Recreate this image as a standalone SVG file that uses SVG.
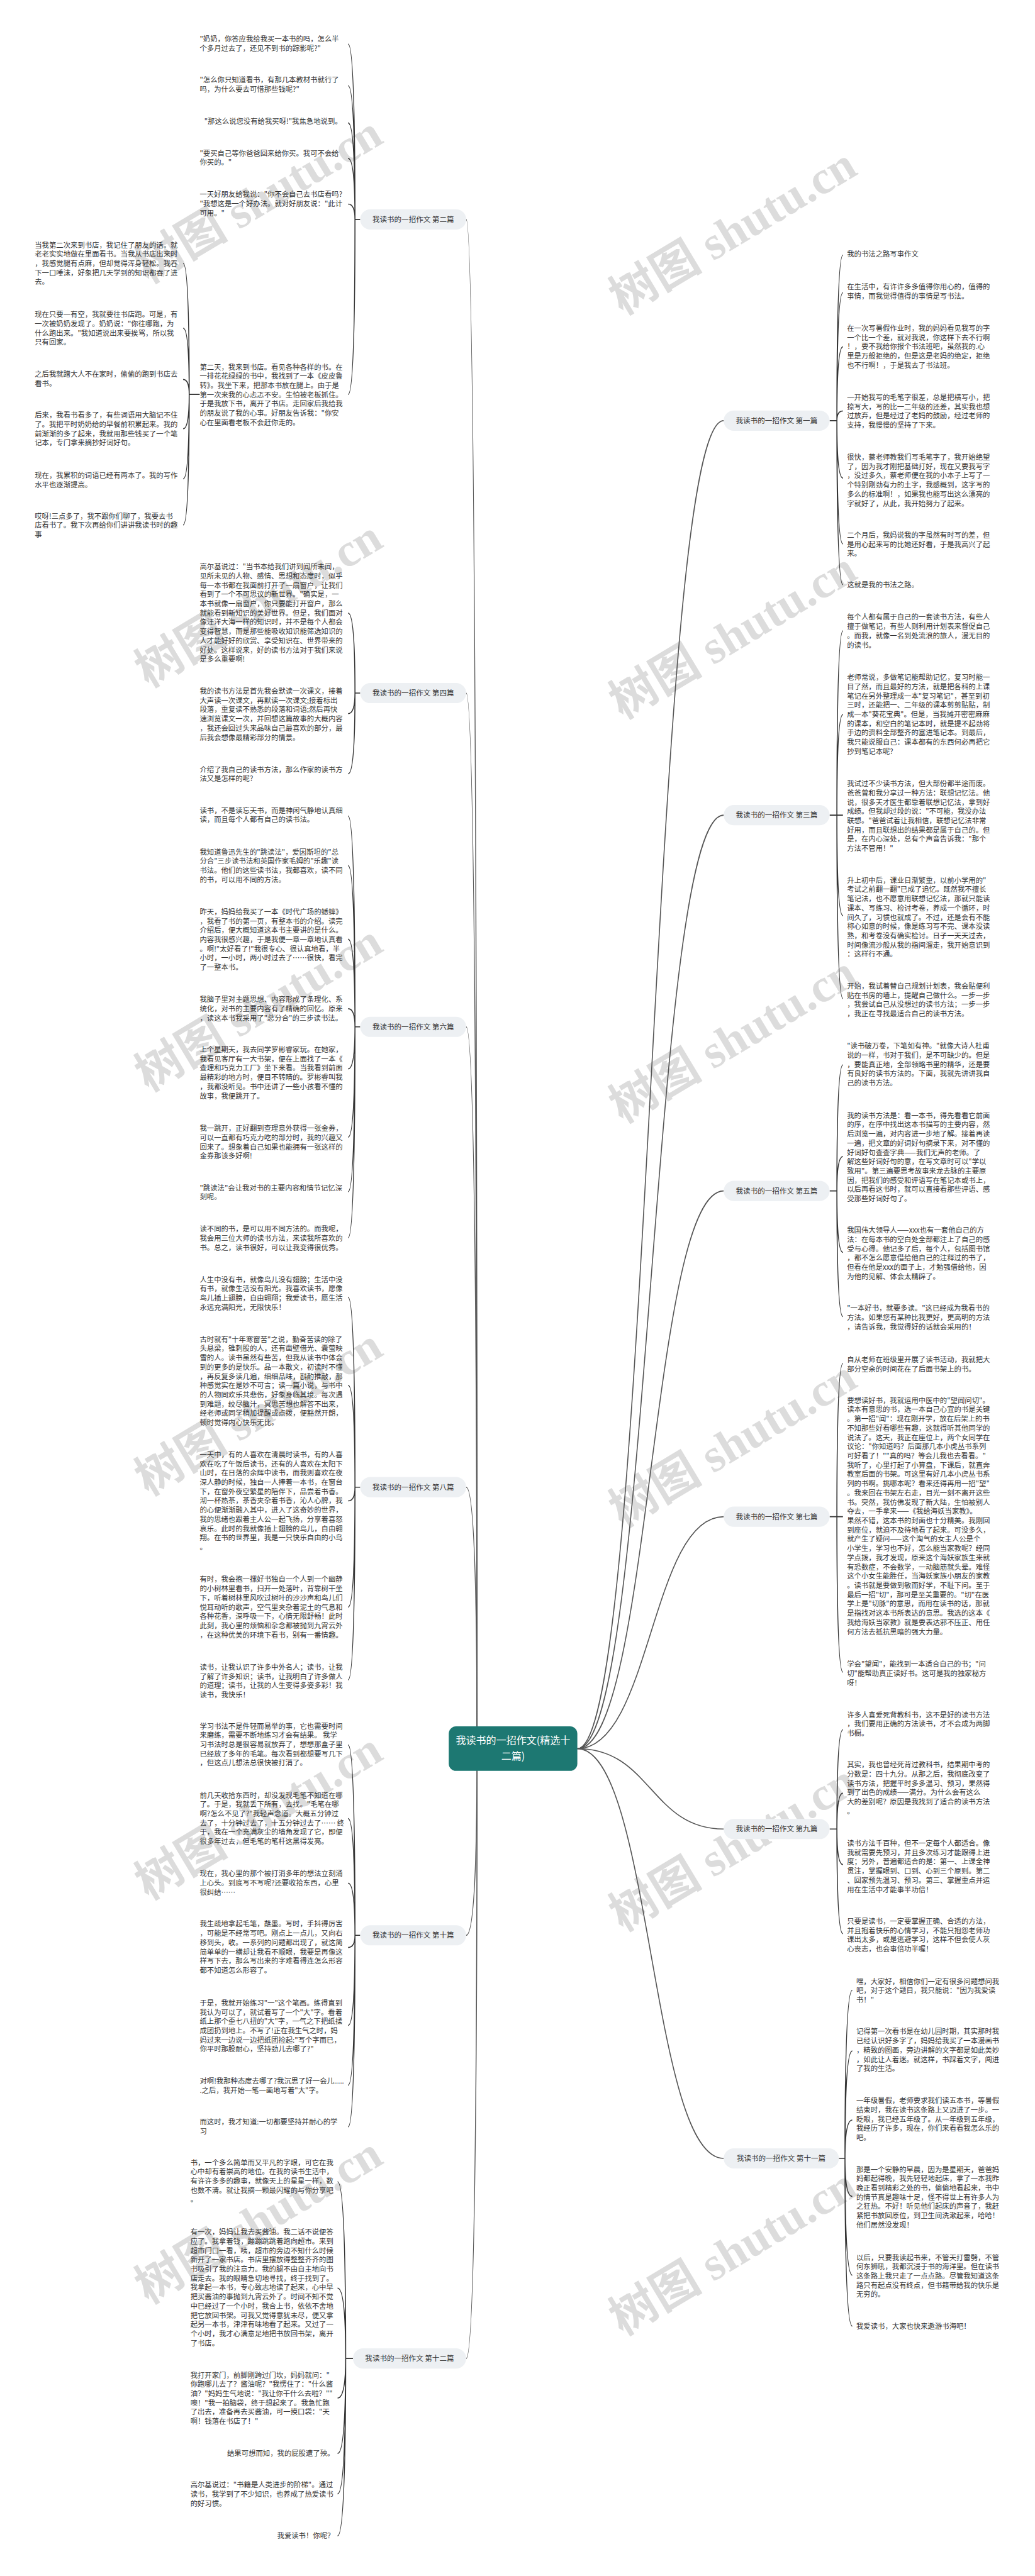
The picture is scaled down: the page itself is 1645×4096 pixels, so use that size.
<svg xmlns="http://www.w3.org/2000/svg" width="1645" height="4096" viewBox="0 0 1645 4096">
<style>
.t{font-family:"Noto Sans CJK SC","Noto Sans",sans-serif;font-size:17.7px;fill:#333}
.c{fill:none;stroke:#333;stroke-width:2.5}
.b{fill:none;stroke:#555;stroke-width:2.5}
.pill{fill:#edf0f3}
.nl{font-family:"Noto Sans CJK SC","Noto Sans",sans-serif;font-size:18px;fill:#333;text-anchor:middle}
.rt{font-family:"Noto Sans CJK SC","Noto Sans",sans-serif;font-size:25px;fill:#fff;text-anchor:middle}
.wm{font-family:"Liberation Serif","Noto Sans CJK SC",serif;font-size:116px;font-weight:bold;fill:#dcdcdc}
</style>
<rect width="1645" height="4096" fill="#fff"/>
<g transform="scale(0.642578)">
<g id="watermarks">
<text class="wm" transform="translate(367,703) rotate(-31)">树图 shutu.cn</text>
<text class="wm" transform="translate(367,1703) rotate(-31)">树图 shutu.cn</text>
<text class="wm" transform="translate(367,2703) rotate(-31)">树图 shutu.cn</text>
<text class="wm" transform="translate(367,3703) rotate(-31)">树图 shutu.cn</text>
<text class="wm" transform="translate(367,4703) rotate(-31)">树图 shutu.cn</text>
<text class="wm" transform="translate(367,5703) rotate(-31)">树图 shutu.cn</text>
<text class="wm" transform="translate(1540,781) rotate(-31)">树图 shutu.cn</text>
<text class="wm" transform="translate(1540,1781) rotate(-31)">树图 shutu.cn</text>
<text class="wm" transform="translate(1540,2781) rotate(-31)">树图 shutu.cn</text>
<text class="wm" transform="translate(1540,3781) rotate(-31)">树图 shutu.cn</text>
<text class="wm" transform="translate(1540,4781) rotate(-31)">树图 shutu.cn</text>
<text class="wm" transform="translate(1540,5781) rotate(-31)">树图 shutu.cn</text>
</g>
<g id="connectors">
<path class="b" d="M1180,4327 Q1180,543 1153,543"/>
<path class="b" d="M1180,4327 Q1180,1715 1153,1715"/>
<path class="b" d="M1180,4327 Q1180,2541 1153,2541"/>
<path class="b" d="M1180,4327 Q1180,3680 1153,3680"/>
<path class="b" d="M1180,4327 Q1180,4789 1153,4789"/>
<path class="b" d="M1180,4327 Q1180,5836 1153,5836"/>
<path class="b" d="M1428,4327 C1610,4327 1610,1041 1790,1041"/>
<path class="b" d="M1428,4327 C1610,4327 1610,2017 1790,2017"/>
<path class="b" d="M1428,4327 C1610,4327 1610,2947 1790,2947"/>
<path class="b" d="M1428,4327 C1610,4327 1610,3753 1790,3753"/>
<path class="b" d="M1428,4327 C1610,4327 1610,4526 1790,4526"/>
<path class="b" d="M1428,4327 C1610,4327 1610,5341 1790,5341"/>
<path class="c" d="M891,543 H878 M878,543 Q878,109 861,109 M878,543 Q878,212 861,212 M878,543 Q878,304 861,304 M878,543 Q878,392 861,392 M878,543 Q878,505 861,505 M878,543 Q878,976 861,976"/>
<path class="c" d="M494,976 H468 M468,976 Q468,652 453,652 M468,976 Q468,812 453,812 M468,976 Q468,939 453,939 M468,976 Q468,1061 453,1061 M468,976 Q468,1185 453,1185 M468,976 Q468,1299 453,1299"/>
<path class="c" d="M891,1715 H878 M878,1715 Q878,1517 861,1517 M878,1715 Q878,1766 861,1766 M878,1715 Q878,1915 861,1915"/>
<path class="c" d="M891,2541 H878 M878,2541 Q878,2019 861,2019 M878,2541 Q878,2142 861,2142 M878,2541 Q878,2324 861,2324 M878,2541 Q878,2496 861,2496 M878,2541 Q878,2645 861,2645 M878,2541 Q878,2814 861,2814 M878,2541 Q878,2949 861,2949 M878,2541 Q878,3063 861,3063"/>
<path class="c" d="M891,3680 H878 M878,3680 Q878,3210 861,3210 M878,3680 Q878,3428 861,3428 M878,3680 Q878,3714 861,3714 M878,3680 Q878,3977 861,3977 M878,3680 Q878,4157 861,4157"/>
<path class="c" d="M891,4789 H878 M878,4789 Q878,4318 861,4318 M878,4789 Q878,4500 861,4500 M878,4789 Q878,4660 861,4660 M878,4789 Q878,4819 861,4819 M878,4789 Q878,5012 861,5012 M878,4789 Q878,5160 861,5160 M878,4789 Q878,5263 861,5263"/>
<path class="c" d="M873,5836 H855 M855,5836 Q855,5399 835,5399 M855,5836 Q855,5662 835,5662 M855,5836 Q855,5934 835,5934 M855,5836 Q855,6071 835,6071 M855,5836 Q855,6171 835,6171 M855,5836 Q855,6275 835,6275"/>
<path class="c" d="M2052,1041 H2070 M2070,1041 Q2070,631 2085,631 M2070,1041 Q2070,724 2085,724 M2070,1041 Q2070,858 2085,858 M2070,1041 Q2070,1017 2085,1017 M2070,1041 Q2070,1183 2085,1183 M2070,1041 Q2070,1346 2085,1346 M2070,1041 Q2070,1447 2085,1447"/>
<path class="c" d="M2052,2017 H2085 M2070,2017 Q2070,1561 2085,1561 M2070,2017 Q2070,1768 2085,1768 M2070,2017 Q2070,2266 2085,2266 M2070,2017 Q2070,2471 2085,2471"/>
<path class="c" d="M2052,2947 H2070 M2070,2947 Q2070,2635 2085,2635 M2070,2947 Q2070,2862 2085,2862 M2070,2947 Q2070,3099 2085,3099 M2070,2947 Q2070,3258 2085,3258"/>
<path class="c" d="M2052,3753 H2085 M2070,3753 Q2070,3374 2085,3374 M2070,3753 Q2070,4138 2085,4138"/>
<path class="c" d="M2052,4526 H2070 M2070,4526 Q2070,4280 2085,4280 M2070,4526 Q2070,4437 2085,4437 M2070,4526 Q2070,4614 2085,4614 M2070,4526 Q2070,4785 2085,4785"/>
<path class="c" d="M2075,5341 H2090 M2090,5341 Q2090,4925 2108,4925 M2090,5341 Q2090,5075 2108,5075 M2090,5341 Q2090,5246 2108,5246 M2090,5341 Q2090,5435 2108,5435 M2090,5341 Q2090,5630 2108,5630 M2090,5341 Q2090,5756 2108,5756"/>
</g>
<g id="root">
<rect x="1110" y="4272" width="318" height="110" rx="18" fill="#1d7872"/>
<text class="rt" x="1269" y="4316">我读书的一招作文(精选十</text>
<text class="rt" x="1269" y="4354">二篇)</text>
</g>
<g id="b2"><rect class="pill" x="891" y="518" width="262" height="50" rx="25"/><text class="nl" x="1022" y="549.5">我读书的一招作文 第二篇</text></g>
<g id="b4"><rect class="pill" x="891" y="1690" width="262" height="50" rx="25"/><text class="nl" x="1022" y="1721.5">我读书的一招作文 第四篇</text></g>
<g id="b6"><rect class="pill" x="891" y="2516" width="262" height="50" rx="25"/><text class="nl" x="1022" y="2547.5">我读书的一招作文 第六篇</text></g>
<g id="b8"><rect class="pill" x="891" y="3655" width="262" height="50" rx="25"/><text class="nl" x="1022" y="3686.5">我读书的一招作文 第八篇</text></g>
<g id="b10"><rect class="pill" x="891" y="4764" width="262" height="50" rx="25"/><text class="nl" x="1022" y="4795.5">我读书的一招作文 第十篇</text></g>
<g id="b12"><rect class="pill" x="873" y="5811" width="280" height="50" rx="25"/><text class="nl" x="1013" y="5842.5">我读书的一招作文 第十二篇</text></g>
<g id="b1"><rect class="pill" x="1790" y="1016" width="262" height="50" rx="25"/><text class="nl" x="1921" y="1047.5">我读书的一招作文 第一篇</text></g>
<g id="b3"><rect class="pill" x="1790" y="1992" width="262" height="50" rx="25"/><text class="nl" x="1921" y="2023.5">我读书的一招作文 第三篇</text></g>
<g id="b5"><rect class="pill" x="1790" y="2922" width="262" height="50" rx="25"/><text class="nl" x="1921" y="2953.5">我读书的一招作文 第五篇</text></g>
<g id="b7"><rect class="pill" x="1790" y="3728" width="262" height="50" rx="25"/><text class="nl" x="1921" y="3759.5">我读书的一招作文 第七篇</text></g>
<g id="b9"><rect class="pill" x="1790" y="4501" width="262" height="50" rx="25"/><text class="nl" x="1921" y="4532.5">我读书的一招作文 第九篇</text></g>
<g id="b11"><rect class="pill" x="1790" y="5316" width="285" height="50" rx="25"/><text class="nl" x="1932" y="5347.5">我读书的一招作文 第十一篇</text></g>

<g id="n2-1"><text class="t" y="102.5"><tspan x="494">"奶奶，你答应我给我买一本书的吗，怎么半</tspan><tspan x="494" dy="22.9">个多月过去了，还见不到书的踪影呢?"</tspan></text></g>
<g id="n2-2"><text class="t" y="204.5"><tspan x="494">"怎么你只知道看书，有那几本教材书就行了</tspan><tspan x="494" dy="22.9">吗，为什么要去可惜那些钱呢?"</tspan></text></g>
<g id="n2-3"><text class="t" y="306.5" x="846" text-anchor="end">"那这么说您没有给我买呀!"我焦急地说到。</text></g>
<g id="n2-4"><text class="t" y="385.5"><tspan x="494">"要买自己等你爸爸回来给你买。我可不会给</tspan><tspan x="494" dy="22.9">你买的。"</tspan></text></g>
<g id="n2-5"><text class="t" y="487.5"><tspan x="494">一天好朋友给我说："你不会自己去书店看吗?</tspan><tspan x="494" dy="22.9">"我想这是一个好办法。就对好朋友说："此计</tspan><tspan x="494" dy="22.9">可用。"</tspan></text></g>
<g id="n2-6"><text class="t" y="914.5"><tspan x="494">第二天，我来到书店。看见各种各样的书。在</tspan><tspan x="494" dy="22.9">一排花花绿绿的书中，我找到了一本《皮皮鲁</tspan><tspan x="494" dy="22.9">转》。我坐下来，把那本书放在腿上。由于是</tspan><tspan x="494" dy="22.9">第一次来我的心忐忑不安。生怕被老板抓住。</tspan><tspan x="494" dy="22.9">于是我放下书，离开了书店。走回家后我给我</tspan><tspan x="494" dy="22.9">的朋友说了我的心事。好朋友告诉我："你安</tspan><tspan x="494" dy="22.9">心在里面看老板不会赶你走的。</tspan></text></g>
<g id="n2-6-1"><text class="t" y="612.5"><tspan x="86">当我第二次来到书店，我记住了朋友的话。就</tspan><tspan x="86" dy="22.9">老老实实地做在里面看书。当我从书店出来时</tspan><tspan x="86" dy="22.9">，我感觉腿有点麻，但却觉得浑身轻松。我吞</tspan><tspan x="86" dy="22.9">下一口唾沫，好象把几天学到的知识都吞了进</tspan><tspan x="86" dy="22.9">去。</tspan></text></g>
<g id="n2-6-2"><text class="t" y="784.5"><tspan x="86">现在只要一有空，我就要往书店跑。可是，有</tspan><tspan x="86" dy="22.9">一次被奶奶发现了。奶奶说："你往哪跑，为</tspan><tspan x="86" dy="22.9">什么跑出来。"我知道说出来要挨骂，所以我</tspan><tspan x="86" dy="22.9">只有回家。</tspan></text></g>
<g id="n2-6-3"><text class="t" y="932.5"><tspan x="86">之后我就蹭大人不在家时，偷偷的跑到书店去</tspan><tspan x="86" dy="22.9">看书。</tspan></text></g>
<g id="n2-6-4"><text class="t" y="1033.5"><tspan x="86">后来，我看书看多了，有些词语用大脑记不住</tspan><tspan x="86" dy="22.9">了。我把平时奶奶给的早餐前积累起来。我的</tspan><tspan x="86" dy="22.9">前渐渐的多了起来，我就用那些钱买了一个笔</tspan><tspan x="86" dy="22.9">记本，专门拿来摘抄好词好句。</tspan></text></g>
<g id="n2-6-5"><text class="t" y="1182.5"><tspan x="86">现在，我累积的词语已经有两本了。我的写作</tspan><tspan x="86" dy="22.9">水平也逐渐提高。</tspan></text></g>
<g id="n2-6-6"><text class="t" y="1283.5"><tspan x="86">哎呀!三点多了，我不跟你们聊了，我要去书</tspan><tspan x="86" dy="22.9">店看书了。我下次再给你们讲讲我读书时的趣</tspan><tspan x="86" dy="22.9">事</tspan></text></g>

<g id="n4-1"><text class="t" y="1408.5"><tspan x="494">高尔基说过："当书本给我们讲到闻所未闻，</tspan><tspan x="494" dy="22.9">见所未见的人物、感情、思想和态度时，似乎</tspan><tspan x="494" dy="22.9">每一本书都在我面前打开了一扇窗户，让我们</tspan><tspan x="494" dy="22.9">看到了一个不可思议的新世界。"确实是，一</tspan><tspan x="494" dy="22.9">本书就像一扇窗户，你只要能打开窗户，那么</tspan><tspan x="494" dy="22.9">就能看到新知识的美好世界。但是，我们面对</tspan><tspan x="494" dy="22.9">像汪洋大海一样的知识时，并不是每个人都会</tspan><tspan x="494" dy="22.9">变得智慧，而是那些能吸收知识能筛选知识的</tspan><tspan x="494" dy="22.9">人才能好好的欣赏、享受知识在、世界带来的</tspan><tspan x="494" dy="22.9">好处。这样说来，好的读书方法对于我们来说</tspan><tspan x="494" dy="22.9">是多么重要啊!</tspan></text></g>
<g id="n4-2"><text class="t" y="1716.5"><tspan x="494">我的读书方法是首先我会默读一次课文，接着</tspan><tspan x="494" dy="22.9">大声读一次课文，再默读一次课文;接着标出</tspan><tspan x="494" dy="22.9">段落，重复读不熟悉的段落和词语;然后再快</tspan><tspan x="494" dy="22.9">速浏览课文一次，并回想这篇故事的大概内容</tspan><tspan x="494" dy="22.9">，我还会回过头来品味自己最喜欢的部分，最</tspan><tspan x="494" dy="22.9">后我会想像最精彩部分的情景。</tspan></text></g>
<g id="n4-3"><text class="t" y="1910.5"><tspan x="494">介绍了我自己的读书方法，那么作家的读书方</tspan><tspan x="494" dy="22.9">法又是怎样的呢?</tspan></text></g>

<g id="n6-1"><text class="t" y="2011.5"><tspan x="494">读书，不是读忘天书，而是神闲气静地认真细</tspan><tspan x="494" dy="22.9">读，而且每个人都有自己的读书法。</tspan></text></g>
<g id="n6-2"><text class="t" y="2114.5"><tspan x="494">我知道鲁迅先生的"跳读法"，爱因斯坦的"总</tspan><tspan x="494" dy="22.9">分合"三步读书法和英国作家毛姆的"乐趣"读</tspan><tspan x="494" dy="22.9">书法。他们的这些读书法，我都喜欢，读不同</tspan><tspan x="494" dy="22.9">的书，可以用不同的方法。</tspan></text></g>
<g id="n6-3"><text class="t" y="2262.5"><tspan x="494">昨天，妈妈给我买了一本《时代广场的蟋蟀》</tspan><tspan x="494" dy="22.9">，我看了书的第一页，有整本书的介绍。读完</tspan><tspan x="494" dy="22.9">介绍后，便大概知道这本书主要讲的是什么。</tspan><tspan x="494" dy="22.9">内容我很感兴趣，于是我便一章一章地认真看</tspan><tspan x="494" dy="22.9">。啊!"太好看了!"我很专心、很认真地看，半</tspan><tspan x="494" dy="22.9">小时，一小时，两小时过去了……很快，看完</tspan><tspan x="494" dy="22.9">了一整本书。</tspan></text></g>
<g id="n6-4"><text class="t" y="2479.5"><tspan x="494">我脑子里对主题思想、内容形成了条理化、系</tspan><tspan x="494" dy="22.9">统化，对书的主要内容有了精确的回忆。原来</tspan><tspan x="494" dy="22.9">，读这本书我采用了"总分合"的三步读书法。</tspan></text></g>
<g id="n6-5"><text class="t" y="2603.5"><tspan x="494">上个星期天，我去同学罗彬睿家玩。在她家，</tspan><tspan x="494" dy="22.9">我看见客厅有一大书架，便在上面找了一本《</tspan><tspan x="494" dy="22.9">查理和巧克力工厂》坐下来看。当我看到前面</tspan><tspan x="494" dy="22.9">最精彩的地方时，便目不转睛的。罗彬睿叫我</tspan><tspan x="494" dy="22.9">，我都没听见。书中还讲了一些小孩看不懂的</tspan><tspan x="494" dy="22.9">故事，我便跳开了。</tspan></text></g>
<g id="n6-6"><text class="t" y="2798.5"><tspan x="494">我一跳开，正好翻到查理意外获得一张金券，</tspan><tspan x="494" dy="22.9">可以一直都有巧克力吃的部分时，我的兴趣又</tspan><tspan x="494" dy="22.9">回来了。想象着自己如果也能拥有一张这样的</tspan><tspan x="494" dy="22.9">金券那该多好啊!</tspan></text></g>
<g id="n6-7"><text class="t" y="2945.5"><tspan x="494">"跳读法"会让我对书的主要内容和情节记忆深</tspan><tspan x="494" dy="22.9">刻呢。</tspan></text></g>
<g id="n6-8"><text class="t" y="3047.5"><tspan x="494">读不同的书，是可以用不同方法的。而我呢，</tspan><tspan x="494" dy="22.9">我会用三位大师的读书方法，来读我所喜欢的</tspan><tspan x="494" dy="22.9">书。总之，读书很好，可以让我变得很优秀。</tspan></text></g>

<g id="n8-1"><text class="t" y="3172.5"><tspan x="494">人生中没有书，就像鸟儿没有翅膀；生活中没</tspan><tspan x="494" dy="22.9">有书，就像生活没有阳光。我喜欢读书，愿像</tspan><tspan x="494" dy="22.9">鸟儿插上翅膀，自由翱翔；我爱读书，愿生活</tspan><tspan x="494" dy="22.9">永远充满阳光，无限快乐！</tspan></text></g>
<g id="n8-2"><text class="t" y="3320.5"><tspan x="494">古时就有"十年寒窗苦"之说，勤奋苦读的除了</tspan><tspan x="494" dy="22.9">头悬梁，锥刺股的人，还有凿壁借光、囊萤映</tspan><tspan x="494" dy="22.9">雪的人。读书虽然有些苦，但我从读书中体会</tspan><tspan x="494" dy="22.9">到的更多的是快乐。品一本散文，初读时不懂</tspan><tspan x="494" dy="22.9">，再反复多读几遍，细细品味，斟酌推敲，那</tspan><tspan x="494" dy="22.9">种感觉实在是妙不可言；读一篇小说，与书中</tspan><tspan x="494" dy="22.9">的人物同欢乐共悲伤，好象身临其境。每次遇</tspan><tspan x="494" dy="22.9">到难题，绞尽脑汁，冥思苦想也解答不出来，</tspan><tspan x="494" dy="22.9">经老师或同学稍加提醒或点拨，便豁然开朗，</tspan><tspan x="494" dy="22.9">顿时觉得内心快乐无比。</tspan></text></g>
<g id="n8-3"><text class="t" y="3605.5"><tspan x="494">一天中，有的人喜欢在清晨时读书，有的人喜</tspan><tspan x="494" dy="22.9">欢在吃了午饭后读书，还有的人喜欢在太阳下</tspan><tspan x="494" dy="22.9">山时，在日落的余辉中读书，而我则喜欢在夜</tspan><tspan x="494" dy="22.9">深人静的时候，独自一人捧着一本书，在窗台</tspan><tspan x="494" dy="22.9">下，在窗外夜空繁星的陪伴下，品尝着书香。</tspan><tspan x="494" dy="22.9">沏一杯热茶，茶香夹杂着书香，沁人心脾，我</tspan><tspan x="494" dy="22.9">的心便渐渐融入其中，进入了这奇妙的世界，</tspan><tspan x="494" dy="22.9">我的思绪也跟着主人公一起飞扬，分享着喜怒</tspan><tspan x="494" dy="22.9">哀乐。此时的我就像插上翅膀的鸟儿，自由翱</tspan><tspan x="494" dy="22.9">翔。在书的世界里，我是一只快乐自由的小鸟</tspan><tspan x="494" dy="22.9">。</tspan></text></g>
<g id="n8-4"><text class="t" y="3914.5"><tspan x="494">有时，我会抱一摞好书独自一个人到一个幽静</tspan><tspan x="494" dy="22.9">的小树林里看书，扫开一处落叶，背靠树干坐</tspan><tspan x="494" dy="22.9">下，听着树林里风吹过树叶的沙沙声和鸟儿们</tspan><tspan x="494" dy="22.9">悦耳动听的歌声，空气里夹杂着泥土的气息和</tspan><tspan x="494" dy="22.9">各种花香，深呼吸一下，心情无限舒畅！此时</tspan><tspan x="494" dy="22.9">此刻，我心里的烦恼和杂念都被抛到九霄云外</tspan><tspan x="494" dy="22.9">，在这种优美的环境下看书，别有一番情趣。</tspan></text></g>
<g id="n8-5"><text class="t" y="4131.5"><tspan x="494">读书，让我认识了许多中外名人；读书，让我</tspan><tspan x="494" dy="22.9">了解了许多知识；读书，让我明白了许多做人</tspan><tspan x="494" dy="22.9">的道理；读书，让我的人生变得多姿多彩！我</tspan><tspan x="494" dy="22.9">读书，我快乐！</tspan></text></g>

<g id="n10-1"><text class="t" y="4277.5"><tspan x="494">学习书法不是件轻而易举的事，它也需要时间</tspan><tspan x="494" dy="22.9">来磨练，需要不断地练习才会有结果。 我学</tspan><tspan x="494" dy="22.9">习书法时总是很容易就放弃了，想想那盒子里</tspan><tspan x="494" dy="22.9">已经放了多年的毛笔。每次看到都想要写几下</tspan><tspan x="494" dy="22.9">，但这点儿想法总很快被打消了。</tspan></text></g>
<g id="n10-2"><text class="t" y="4448.5"><tspan x="494">前几天收拾东西时，却没发现毛笔不知道在哪</tspan><tspan x="494" dy="22.9">了。于是，我就丢下所有，去找。"毛笔在哪</tspan><tspan x="494" dy="22.9">啊?怎么不见了?"我轻声念道。大概五分钟过</tspan><tspan x="494" dy="22.9">去了，十分钟过去了，十五分钟过去了…… 终</tspan><tspan x="494" dy="22.9">于，我在一个充满灰尘的墙角发现了它，即便</tspan><tspan x="494" dy="22.9">很多年过去，但毛笔的笔杆这黑得发亮。</tspan></text></g>
<g id="n10-3"><text class="t" y="4642.5"><tspan x="494">现在，我心里的那个被打消多年的想法立刻涌</tspan><tspan x="494" dy="22.9">上心头。到底写不写呢?还要收拾东西，心里</tspan><tspan x="494" dy="22.9">很纠结……</tspan></text></g>
<g id="n10-4"><text class="t" y="4767.5"><tspan x="494">我生疏地拿起毛笔，蘸墨。写时，手抖得厉害</tspan><tspan x="494" dy="22.9">，可能是不经常写吧。刚点上一点儿，又向右</tspan><tspan x="494" dy="22.9">移到头，收。一系列的问题都出现了，就这简</tspan><tspan x="494" dy="22.9">简单单的一横却让我看不顺眼，我要是再像这</tspan><tspan x="494" dy="22.9">样写下去，那么写出来的字难看得连怎么形容</tspan><tspan x="494" dy="22.9">都不知道怎么形容了。</tspan></text></g>
<g id="n10-5"><text class="t" y="4962.5"><tspan x="494">于是，我就开始练习"一"这个笔画。练得直到</tspan><tspan x="494" dy="22.9">我认为可以了，就试着写了一个"大"字。看着</tspan><tspan x="494" dy="22.9">纸上那个歪七八扭的"大"字，一气之下把纸揉</tspan><tspan x="494" dy="22.9">成团扔到地上。不写了!正在我生气之时，妈</tspan><tspan x="494" dy="22.9">妈过来一边说一边把纸团捡起:"写个字而已，</tspan><tspan x="494" dy="22.9">你平时那股耐心，坚持劲儿去哪了?"</tspan></text></g>
<g id="n10-6"><text class="t" y="5155.5"><tspan x="494">对啊!我那种态度去哪了?我沉思了好一会儿.....</tspan><tspan x="494" dy="22.9">.之后，我开始一笔一画地写着"大"字。</tspan></text></g>
<g id="n10-7"><text class="t" y="5257.5"><tspan x="494">而这时，我才知道:一切都要坚持并耐心的学</tspan><tspan x="494" dy="22.9">习</tspan></text></g>

<g id="n12-1"><text class="t" y="5357.5"><tspan x="471">书，一个多么简单而又平凡的字眼，可它在我</tspan><tspan x="471" dy="22.9">心中却有着崇高的地位。在我的读书生活中，</tspan><tspan x="471" dy="22.9">有许许多多的趣事，就像天上的星星一样，数</tspan><tspan x="471" dy="22.9">也数不清。就让我摘一颗最闪耀的与你分享吧</tspan><tspan x="471" dy="22.9">。</tspan></text></g>
<g id="n12-2"><text class="t" y="5529.5"><tspan x="471">有一次，妈妈让我去买酱油。我二话不说便答</tspan><tspan x="471" dy="22.9">应了。我拿着钱，蹦蹦跳跳着跑向超市。来到</tspan><tspan x="471" dy="22.9">超市门口一看，咦，超市的旁边不知什么时候</tspan><tspan x="471" dy="22.9">新开了一家书店。书店里摆放得整整齐齐的图</tspan><tspan x="471" dy="22.9">书吸引了我的注意力。我的腿不由自主地向书</tspan><tspan x="471" dy="22.9">店走去。我的眼睛急切地寻找，终于找到了。</tspan><tspan x="471" dy="22.9">我拿起一本书，专心致志地读了起来，心中早</tspan><tspan x="471" dy="22.9">把买酱油的事抛到九霄云外了。时间不知不觉</tspan><tspan x="471" dy="22.9">中已经过了一个小时，我合上书，依依不舍地</tspan><tspan x="471" dy="22.9">把它放回书架。可我又觉得意犹未尽，便又拿</tspan><tspan x="471" dy="22.9">起另一本书，津津有味地看了起来。又过了一</tspan><tspan x="471" dy="22.9">个小时，我才心满意足地把书放回书架，离开</tspan><tspan x="471" dy="22.9">了书店。</tspan></text></g>
<g id="n12-3"><text class="t" y="5883.5"><tspan x="471">我打开家门，前脚刚跨过门坎，妈妈就问："</tspan><tspan x="471" dy="22.9">你跑哪儿去了？酱油呢？"我愣住了："什么酱</tspan><tspan x="471" dy="22.9">油？"妈妈生气地说："我让你干什么去啦？""</tspan><tspan x="471" dy="22.9">噢！"我一拍脑袋，终于想起来了。我急忙跑</tspan><tspan x="471" dy="22.9">了出去，准备再去买酱油，可一摸口袋："天</tspan><tspan x="471" dy="22.9">啊！钱落在书店了！"</tspan></text></g>
<g id="n12-4"><text class="t" x="827" y="6077.5" text-anchor="end">结果可想而知，我的屁股遭了殃。</text></g>
<g id="n12-5"><text class="t" y="6155.5"><tspan x="471">高尔基说过："书籍是人类进步的阶梯"。通过</tspan><tspan x="471" dy="22.9">读书，我学到了不少知识，也养成了热爱读书</tspan><tspan x="471" dy="22.9">的好习惯。</tspan></text></g>
<g id="n12-6"><text class="t" x="827" y="6281.5" text-anchor="end">我爱读书！你呢？</text></g>

<g id="n1-1"><text class="t" x="2095" y="634.5">我的书法之路写事作文</text></g>
<g id="n1-2"><text class="t" y="716.5"><tspan x="2095">在生活中，有许许多多值得你用心的，值得的</tspan><tspan x="2095" dy="22.9">事情，而我觉得值得的事情是写书法。</tspan></text></g>
<g id="n1-3"><text class="t" y="818.5"><tspan x="2095">在一次写暑假作业时，我的妈妈看见我写的字</tspan><tspan x="2095" dy="22.9">一个比一个差，就对我说，你这样下去不行啊</tspan><tspan x="2095" dy="22.9">！，要不我给你报个书法班吧，虽然我的.心</tspan><tspan x="2095" dy="22.9">里是万般拒绝的，但是这是老妈的绝定，拒绝</tspan><tspan x="2095" dy="22.9">也不行啊！，于是我去了书法班。</tspan></text></g>
<g id="n1-4"><text class="t" y="989.5"><tspan x="2095">一开始我写的毛笔字很差，总是把横写小，把</tspan><tspan x="2095" dy="22.9">捺写大，写的比一二年级的还差，其实我也想</tspan><tspan x="2095" dy="22.9">过放弃，但是经过了老妈的鼓励，经过老师的</tspan><tspan x="2095" dy="22.9">支持，我慢慢的坚持了下来。</tspan></text></g>
<g id="n1-5"><text class="t" y="1137.5"><tspan x="2095">很快，蔡老师教我们写毛笔字了，我开始绝望</tspan><tspan x="2095" dy="22.9">了，因为我才刚把基础打好，现在又要我写字</tspan><tspan x="2095" dy="22.9">，没过多久，蔡老师便在我的小本子上写了一</tspan><tspan x="2095" dy="22.9">个特别刚劲有力的土字，我感概到，这字写的</tspan><tspan x="2095" dy="22.9">多么的标准啊！，如果我也能写出这么漂亮的</tspan><tspan x="2095" dy="22.9">字就好了，从此，我开始努力了起来。</tspan></text></g>
<g id="n1-6"><text class="t" y="1330.5"><tspan x="2095">二个月后，我妈说我的字虽然有时写的差，但</tspan><tspan x="2095" dy="22.9">是用心起来写的比她还好看，于是我高兴了起</tspan><tspan x="2095" dy="22.9">来。</tspan></text></g>
<g id="n1-7"><text class="t" x="2095" y="1453.5">这就是我的书法之路。</text></g>

<g id="n3-1"><text class="t" y="1533.5"><tspan x="2095">每个人都有属于自己的一套读书方法，有些人</tspan><tspan x="2095" dy="22.9">擅于做笔记，有些人则利用计划表来督促自己</tspan><tspan x="2095" dy="22.9">。而我，就像一名到处流浪的旅人，漫无目的</tspan><tspan x="2095" dy="22.9">的读书。</tspan></text></g>
<g id="n3-2"><text class="t" y="1682.5"><tspan x="2095">老师常说，多做笔记能帮助记忆，复习时能一</tspan><tspan x="2095" dy="22.9">目了然，而且最好的方法，就是把各科的上课</tspan><tspan x="2095" dy="22.9">笔记在另外整理成一本"复习笔记"，甚至到初</tspan><tspan x="2095" dy="22.9">三时，还能把一、二年级的课本剪剪贴贴，制</tspan><tspan x="2095" dy="22.9">成一本"葵花宝典"。但是，当我摊开密密麻麻</tspan><tspan x="2095" dy="22.9">的课本，和空白的笔记本时，就是提不起劲将</tspan><tspan x="2095" dy="22.9">手边的资料全部整齐的塞进笔记本。到最后，</tspan><tspan x="2095" dy="22.9">我只能说服自己：课本都有的东西何必再把它</tspan><tspan x="2095" dy="22.9">抄到笔记本呢?</tspan></text></g>
<g id="n3-3"><text class="t" y="1945.5"><tspan x="2095">我试过不少读书方法，但大部份都半途而废。</tspan><tspan x="2095" dy="22.9">爸爸曾和我分享过一种方法：联想记忆法。他</tspan><tspan x="2095" dy="22.9">说，很多天才医生都靠着联想记忆法，拿到好</tspan><tspan x="2095" dy="22.9">成绩。但我却过段的说："不可能，我没办法</tspan><tspan x="2095" dy="22.9">联想。"爸爸试着让我相信，联想记忆法非常</tspan><tspan x="2095" dy="22.9">好用，而且联想出的结果都是属于自己的。但</tspan><tspan x="2095" dy="22.9">是，在内心深处，总有个声音告诉我："那个</tspan><tspan x="2095" dy="22.9">方法不管用！"</tspan></text></g>
<g id="n3-4"><text class="t" y="2184.5"><tspan x="2095">升上初中后，课业日渐繁重，以前小学用的"</tspan><tspan x="2095" dy="22.9">考试之前翻一翻"已成了追忆。既然我不擅长</tspan><tspan x="2095" dy="22.9">笔记法，也不愿意用联想记忆法，那就只能读</tspan><tspan x="2095" dy="22.9">课本、写练习、检讨考卷，养成一个循环，时</tspan><tspan x="2095" dy="22.9">间久了，习惯也就成了。不过，还是会有不能</tspan><tspan x="2095" dy="22.9">称心如意的时候，像是练习写不完、课本没读</tspan><tspan x="2095" dy="22.9">熟，和考卷没有确实检讨。日子一天天过去，</tspan><tspan x="2095" dy="22.9">时间像流沙般从我的指间溜走，我开始意识到</tspan><tspan x="2095" dy="22.9">：这样行不通。</tspan></text></g>
<g id="n3-5"><text class="t" y="2446.5"><tspan x="2095">开始，我试着替自己规划计划表，我会贴便利</tspan><tspan x="2095" dy="22.9">贴在书房的墙上，提醒自己做什么。一步一步</tspan><tspan x="2095" dy="22.9">，我尝试自己从没想过的读书方法；一步一步</tspan><tspan x="2095" dy="22.9">，我正在寻找最适合自己的读书方法。</tspan></text></g>

<g id="n5-1"><text class="t" y="2594.5"><tspan x="2095">"读书破万卷，下笔如有神。"就像大诗人杜甫</tspan><tspan x="2095" dy="22.9">说的一样，书对于我们，是不可缺少的。但是</tspan><tspan x="2095" dy="22.9">，要能真正地，全部领略书里的精华，还是要</tspan><tspan x="2095" dy="22.9">有良好的读书方法的。下面，我就先讲讲我自</tspan><tspan x="2095" dy="22.9">己的读书方法。</tspan></text></g>
<g id="n5-2"><text class="t" y="2766.5"><tspan x="2095">我的读书方法是：看一本书，得先看看它前面</tspan><tspan x="2095" dy="22.9">的序，在序中找出这本书描写的主要内容，然</tspan><tspan x="2095" dy="22.9">后浏览一遍，对内容进一步地了解。接着再读</tspan><tspan x="2095" dy="22.9">一遍，把文章的好词好句摘录下来，对不懂的</tspan><tspan x="2095" dy="22.9">好词好句查查字典——我们无声的老师。了</tspan><tspan x="2095" dy="22.9">解这些好词好句的意，在写文章时可以"学以</tspan><tspan x="2095" dy="22.9">致用"。第三遍要思考故事来龙去脉的主要原</tspan><tspan x="2095" dy="22.9">因，把我们的感受和评语写在笔记本或书上，</tspan><tspan x="2095" dy="22.9">以后再看这书时，就可以直接看那些评语、感</tspan><tspan x="2095" dy="22.9">受那些好词好句了。</tspan></text></g>
<g id="n5-3"><text class="t" y="3050.5"><tspan x="2095">我国伟大领导人——xxx也有一套他自己的方</tspan><tspan x="2095" dy="22.9">法：在每本书的空白处全部都注上了自己的感</tspan><tspan x="2095" dy="22.9">受与心得。他记多了后，每个人，包括图书馆</tspan><tspan x="2095" dy="22.9">，都不怎么愿意借给他自己的注释过的书了，</tspan><tspan x="2095" dy="22.9">但看在他是xxx的面子上，才勉强借给他，因</tspan><tspan x="2095" dy="22.9">为他的见解、体会太精辟了。</tspan></text></g>
<g id="n5-4"><text class="t" y="3243.5"><tspan x="2095">"一本好书，就要多读。"这已经成为我看书的</tspan><tspan x="2095" dy="22.9">方法。如果您有某种比我更好，更高明的方法</tspan><tspan x="2095" dy="22.9">，请告诉我，我觉得好的话就会采用的！</tspan></text></g>

<g id="n7-1"><text class="t" y="3370.5"><tspan x="2095">自从老师在班级里开展了读书活动，我就把大</tspan><tspan x="2095" dy="22.9">部分空余的时间花在了后面书架上的书。</tspan></text></g>
<g id="n7-2"><text class="t" y="3471.5"><tspan x="2095">要想读好书，我就运用中医中的"望闻问切"。</tspan><tspan x="2095" dy="22.9">读本有意思的书，选一本自己心宜的书是关键</tspan><tspan x="2095" dy="22.9">。第一招"闻"：现在刚开学，放在后架上的书</tspan><tspan x="2095" dy="22.9">不知那些好看哪些有趣，这就得听其他同学的</tspan><tspan x="2095" dy="22.9">说法了。这天，我正在座位上，两个女同学在</tspan><tspan x="2095" dy="22.9">议论："你知道吗？后面那几本小虎丛书系列</tspan><tspan x="2095" dy="22.9">可好看了！""真的吗？等会儿我也去看看。"</tspan><tspan x="2095" dy="22.9">我听了，心里打起了小算盘，下课后，就直奔</tspan><tspan x="2095" dy="22.9">教室后面的书架。可这里有好几本小虎丛书系</tspan><tspan x="2095" dy="22.9">列的书啊。挑哪本呢？看来还得再用一招"望"</tspan><tspan x="2095" dy="22.9">。我来回在书架左右走，目光一刻不离开这些</tspan><tspan x="2095" dy="22.9">书。突然，我仿佛发现了新大陆，生怕被别人</tspan><tspan x="2095" dy="22.9">夺去，一手拿来——《我给海妖当家教》。</tspan><tspan x="2095" dy="22.9">果然不错，这本书的封面也十分精美。我刚回</tspan><tspan x="2095" dy="22.9">到座位，就迫不及待地看了起来。可没多久，</tspan><tspan x="2095" dy="22.9">就产生了疑问——这个淘气的女主人公是个</tspan><tspan x="2095" dy="22.9">小学生，学习也不好，怎么能当家教呢？经同</tspan><tspan x="2095" dy="22.9">学点拨，我才发现，原来这个海妖家族生来就</tspan><tspan x="2095" dy="22.9">有恐数症，不会数学，一动脑筋就头晕。难怪</tspan><tspan x="2095" dy="22.9">这个小女生能胜任，当海妖家族小朋友的家教</tspan><tspan x="2095" dy="22.9">。读书就是要做到敏而好学，不耻下问。至于</tspan><tspan x="2095" dy="22.9">最后一招"切"，那可是至关重要的。"切"在医</tspan><tspan x="2095" dy="22.9">学上是"切脉"的意思，而用在读书的话，那就</tspan><tspan x="2095" dy="22.9">是指找对这本书所表达的意思。我选的这本《</tspan><tspan x="2095" dy="22.9">我给海妖当家教》就是要表达邪不压正、用任</tspan><tspan x="2095" dy="22.9">何方法去抵抗黑暗的强大力量。</tspan></text></g>
<g id="n7-3"><text class="t" y="4124.5"><tspan x="2095">学会"望闻"，能找到一本适合自己的书；"问</tspan><tspan x="2095" dy="22.9">切"能帮助真正读好书。这可是我的独家秘方</tspan><tspan x="2095" dy="22.9">呀！</tspan></text></g>

<g id="n9-1"><text class="t" y="4249.5"><tspan x="2095">许多人喜爱死背教科书，这不是好的读书方法</tspan><tspan x="2095" dy="22.9">，我们要用正确的方法读书，才不会成为两脚</tspan><tspan x="2095" dy="22.9">书橱。</tspan></text></g>
<g id="n9-2"><text class="t" y="4373.5"><tspan x="2095">其实，我也曾经死背过教科书，结果期中考的</tspan><tspan x="2095" dy="22.9">分数是：四十九分。从那之后，我彻底改变了</tspan><tspan x="2095" dy="22.9">读书方法，把握平时多多温习、预习，果然得</tspan><tspan x="2095" dy="22.9">到了出色的成绩——满分。为什么会有这么</tspan><tspan x="2095" dy="22.9">大的差别呢？原因是我找到了适合的读书方法</tspan><tspan x="2095" dy="22.9">。</tspan></text></g>
<g id="n9-3"><text class="t" y="4567.5"><tspan x="2095">读书方法千百种，但不一定每个人都适合。像</tspan><tspan x="2095" dy="22.9">我就需要先预习，并且多次练习才能跟得上进</tspan><tspan x="2095" dy="22.9">度；另外，普遍都适合的是：第一、上课全神</tspan><tspan x="2095" dy="22.9">贯注，掌握眼到、口到、心到三个原则。第二</tspan><tspan x="2095" dy="22.9">、回家预先温习、预习。第三、掌握重点并运</tspan><tspan x="2095" dy="22.9">用在生活中才能事半功倍！</tspan></text></g>
<g id="n9-4"><text class="t" y="4760.5"><tspan x="2095">只要是读书，一定要掌握正确、合适的方法，</tspan><tspan x="2095" dy="22.9">并且抱着快乐的心情学习，不能只抱怨老师功</tspan><tspan x="2095" dy="22.9">课出太多，或是逃避学习，这样不但会使人灰</tspan><tspan x="2095" dy="22.9">心丧志，也会事倍功半喔！</tspan></text></g>

<g id="n11-1"><text class="t" y="4909.5"><tspan x="2118">嘿，大家好，相信你们一定有很多问题想问我</tspan><tspan x="2118" dy="22.9">吧，对于这个题目，我只能说："因为我爱读</tspan><tspan x="2118" dy="22.9">书！"</tspan></text></g>
<g id="n11-2"><text class="t" y="5033.5"><tspan x="2118">记得第一次看书是在幼儿园时期，其实那时我</tspan><tspan x="2118" dy="22.9">已经认识好多字了，妈妈给我买了一本漫画书</tspan><tspan x="2118" dy="22.9">，精致的图画，旁边讲解的文字都是如此美妙</tspan><tspan x="2118" dy="22.9">，如此让人着迷。就这样，书踩着文字，闯进</tspan><tspan x="2118" dy="22.9">了我的生活。</tspan></text></g>
<g id="n11-3"><text class="t" y="5204.5"><tspan x="2118">一年级暑假，老师要求我们读五本书，等暑假</tspan><tspan x="2118" dy="22.9">结束时，我在读书这条路上又迈进了一步。一</tspan><tspan x="2118" dy="22.9">眨眼，我已经五年级了。从一年级到五年级，</tspan><tspan x="2118" dy="22.9">我经历了许多，现在，你们来看看我怎么乐的</tspan><tspan x="2118" dy="22.9">吧。</tspan></text></g>
<g id="n11-4"><text class="t" y="5374.5"><tspan x="2118">那是一个安静的早晨，因为是星期天，爸爸妈</tspan><tspan x="2118" dy="22.9">妈都起得晚，我先轻轻地起床，拿了一本我昨</tspan><tspan x="2118" dy="22.9">晚正看到精彩之处的书，偷偷地看起来，书中</tspan><tspan x="2118" dy="22.9">的情节真是趣味十足，怪不得世上有许多人为</tspan><tspan x="2118" dy="22.9">之狂热。不好！听见他们起床的声音了，我赶</tspan><tspan x="2118" dy="22.9">紧把书放回原位，到卫生间洗漱起来，哈哈！</tspan><tspan x="2118" dy="22.9">他们居然没发现！</tspan></text></g>
<g id="n11-5"><text class="t" y="5592.5"><tspan x="2118">以后，只要我读起书来，不管天打雷劈，不管</tspan><tspan x="2118" dy="22.9">何东狮吼，我都沉浸于书的海洋里。但在读书</tspan><tspan x="2118" dy="22.9">这条路上我只走了一点点路。尽管我知道这条</tspan><tspan x="2118" dy="22.9">路只有起点没有终点，但书籍带给我的快乐是</tspan><tspan x="2118" dy="22.9">无穷的。</tspan></text></g>
<g id="n11-6"><text class="t" x="2118" y="5762.5">我爱读书，大家也快来遨游书海吧！</text></g>
</g>
</svg>
